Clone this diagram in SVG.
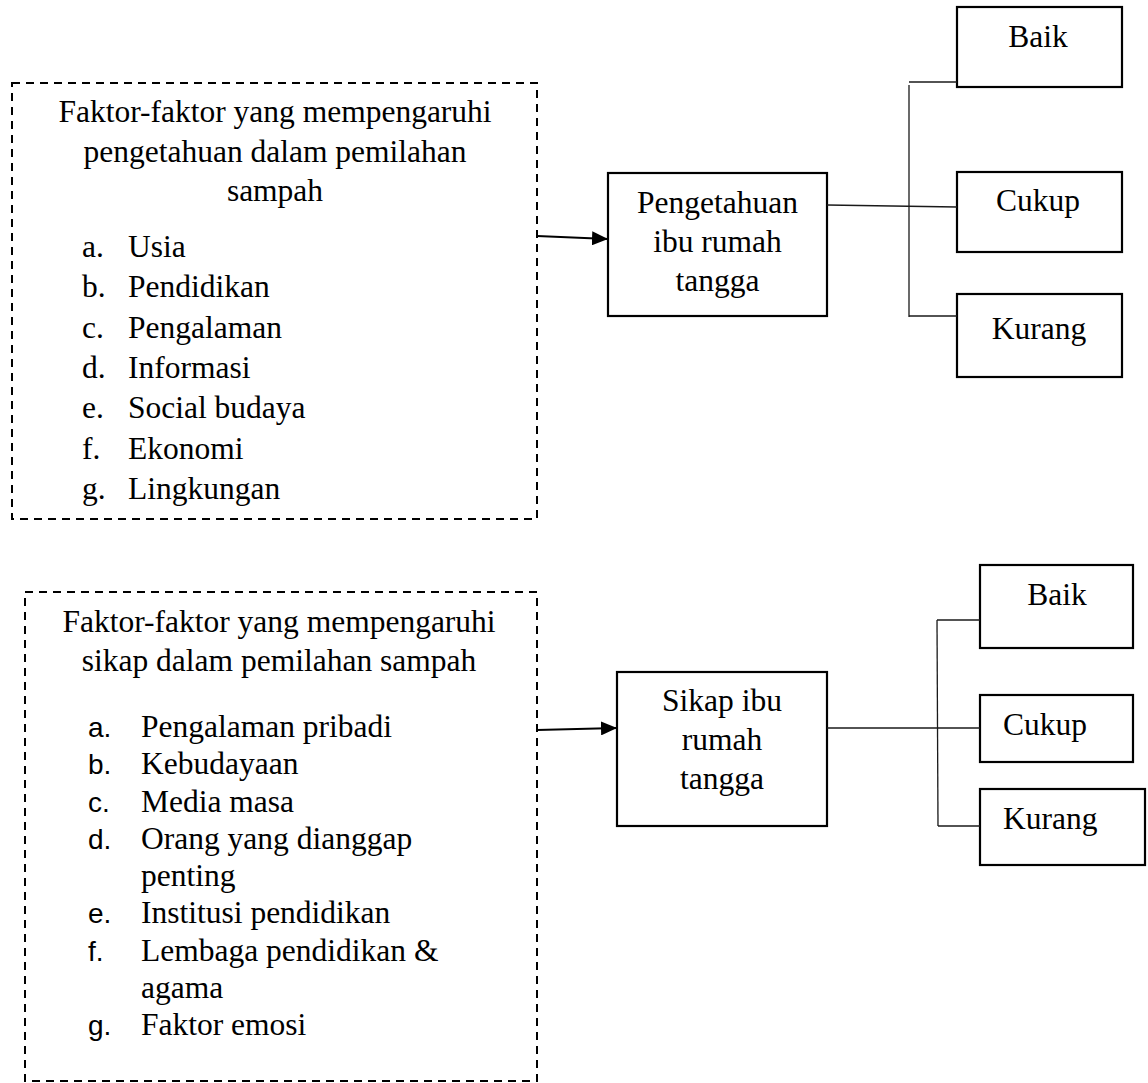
<svg xmlns="http://www.w3.org/2000/svg" width="1148" height="1083" viewBox="0 0 1148 1083">
<style>
.t{font-family:"Liberation Serif","Times New Roman",serif;font-size:31.5px;fill:#000}
.c{text-anchor:middle}
.s{font-family:"Liberation Sans",Arial,sans-serif;font-size:28px;fill:#000}
.dash{fill:none;stroke:#000;stroke-width:2;stroke-dasharray:8 6}
.box{fill:#fff;stroke:#000;stroke-width:2.2}
.ln{fill:none;stroke:#1a1a1a;stroke-width:1.3}
.ar{fill:none;stroke:#000;stroke-width:2.2}
</style>
<defs>
<marker id="ah" markerUnits="userSpaceOnUse" markerWidth="16" markerHeight="14" refX="16" refY="7" orient="auto">
<path d="M0,0 L16,7 L0,14 Z" fill="#000"/>
</marker>
</defs>
<rect width="1148" height="1083" fill="#fff"/>

<g id="faktor-pengetahuan">
<rect class="dash" x="12" y="83" width="525" height="436"/>
<text class="t c" x="275" y="122">Faktor-faktor yang mempengaruhi</text>
<text class="t c" x="275" y="162">pengetahuan dalam pemilahan</text>
<text class="t c" x="275" y="201">sampah</text>
<text class="t" x="82" y="257">a.</text><text class="t" x="128" y="257">Usia</text>
<text class="t" x="82" y="297.3">b.</text><text class="t" x="128" y="297.3">Pendidikan</text>
<text class="t" x="82" y="337.6">c.</text><text class="t" x="128" y="337.6">Pengalaman</text>
<text class="t" x="82" y="378">d.</text><text class="t" x="128" y="378">Informasi</text>
<text class="t" x="82" y="418.3">e.</text><text class="t" x="128" y="418.3">Social budaya</text>
<text class="t" x="82" y="458.6">f.</text><text class="t" x="128" y="458.6">Ekonomi</text>
<text class="t" x="82" y="499">g.</text><text class="t" x="128" y="499">Lingkungan</text>
</g>

<g id="pengetahuan">
<rect class="box" x="608" y="173" width="219" height="143"/>
<text class="t c" x="717.5" y="213">Pengetahuan</text>
<text class="t c" x="717.5" y="252">ibu rumah</text>
<text class="t c" x="717.5" y="291">tangga</text>
</g>

<g id="baik1">
<rect class="box" x="957" y="7" width="165" height="80"/>
<text class="t c" x="1038" y="47">Baik</text>
</g>
<g id="cukup1">
<rect class="box" x="957" y="172" width="165" height="80"/>
<text class="t c" x="1038" y="211">Cukup</text>
</g>
<g id="kurang1">
<rect class="box" x="957" y="294" width="165" height="83"/>
<text class="t c" x="1039" y="339">Kurang</text>
</g>

<g id="faktor-sikap">
<rect class="dash" x="25" y="592" width="512" height="489"/>
<text class="t c" x="279" y="632">Faktor-faktor yang mempengaruhi</text>
<text class="t c" x="279" y="671">sikap dalam pemilahan sampah</text>
<text class="s" x="88" y="737">a.</text><text class="t" x="141" y="737">Pengalaman pribadi</text>
<text class="s" x="88" y="774.3">b.</text><text class="t" x="141" y="774.3">Kebudayaan</text>
<text class="s" x="88" y="811.5">c.</text><text class="t" x="141" y="811.5">Media masa</text>
<text class="s" x="88" y="848.8">d.</text><text class="t" x="141" y="848.8">Orang yang dianggap</text>
<text class="t" x="141" y="886">penting</text>
<text class="s" x="88" y="923.3">e.</text><text class="t" x="141" y="923.3">Institusi pendidikan</text>
<text class="s" x="88" y="960.5">f.</text><text class="t" x="141" y="960.5">Lembaga pendidikan &amp;</text>
<text class="t" x="141" y="997.8">agama</text>
<text class="s" x="88" y="1035">g.</text><text class="t" x="141" y="1035">Faktor emosi</text>
</g>

<g id="sikap">
<rect class="box" x="617" y="672" width="210" height="154"/>
<text class="t c" x="722" y="711">Sikap ibu</text>
<text class="t c" x="722" y="750">rumah</text>
<text class="t c" x="722" y="789">tangga</text>
</g>

<g id="baik2">
<rect class="box" x="980" y="565" width="153" height="83"/>
<text class="t c" x="1057" y="605">Baik</text>
</g>
<g id="cukup2">
<rect class="box" x="980" y="695" width="153" height="67"/>
<text class="t" x="1003" y="735">Cukup</text>
</g>
<g id="kurang2">
<rect class="box" x="980" y="789" width="165" height="76"/>
<text class="t" x="1003" y="829">Kurang</text>
</g>

<g id="connectors">
<line class="ar" x1="537" y1="236" x2="608" y2="239" marker-end="url(#ah)"/>
<line class="ln" x1="827" y1="205" x2="957" y2="207"/>
<line class="ln" x1="909" y1="85" x2="909" y2="317"/>
<line class="ln" x1="909" y1="82" x2="957" y2="82"/>
<line class="ln" x1="909" y1="316" x2="957" y2="316"/>

<line class="ar" x1="537" y1="730" x2="617" y2="728" marker-end="url(#ah)"/>
<line class="ln" x1="827" y1="728" x2="980" y2="728"/>
<line class="ln" x1="937" y1="620" x2="938" y2="826"/>
<line class="ln" x1="937" y1="620" x2="980" y2="620"/>
<line class="ln" x1="938" y1="826" x2="980" y2="826"/>
</g>
</svg>
